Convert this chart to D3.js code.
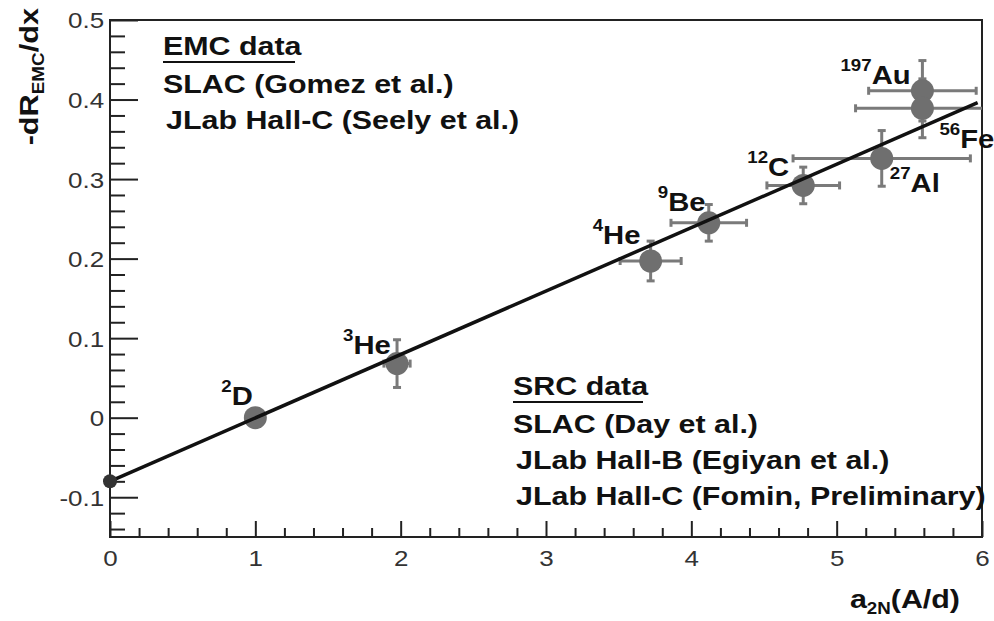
<!DOCTYPE html>
<html>
<head>
<meta charset="utf-8">
<script src="https://cdn.jsdelivr.net/npm/d3@7"></script>
<style>
  body { margin: 0; background: #fff; }
  text { font-family: "Liberation Sans", Arial, Helvetica, sans-serif; }
</style>
</head>
<body>
<script>
// nuclei: mass number (superscript) + element
var massNumber = ['2', '3', '4', '9', '12', '27', '197', '56']
var element = ['D', 'He', 'He', 'Be', 'C', 'Al', 'Au', 'Fe']
// a2N(A/d) and -dR_EMC/dx with errors
var a2N = [1.00, 1.975, 3.72, 4.12, 4.77, 5.31, 5.59, 5.59]
var emcSlope = [0.000, 0.068, 0.197, 0.245, 0.292, 0.326, 0.411, 0.389]
var a2NErr = [0, 0.09, 0.21, 0.26, 0.25, 0.61, 0.37, 0.46]
var slopeErr = [0, 0.030, 0.025, 0.023, 0.023, 0.035, 0.038, 0.037]

// linear fit, drawn between two end points, and its intercept point
var fitX = [0, 5.97]
var fitY = [-0.080, 0.396]
var intercept = {x: 0, y: -0.080}

var xTicks = [0, 1, 2, 3, 4, 5, 6]
var yTicks = [-0.1, 0, 0.1, 0.2, 0.3, 0.4, 0.5]
var yTickLabels = ['-0.1', '0', '0.1', '0.2', '0.3', '0.4', '0.5']

var emcHeader = 'EMC data'
var emcEntries = ['SLAC (Gomez et al.)', 'JLab Hall-C (Seely et al.)']
var srcHeader = 'SRC data'
var srcEntries = ['SLAC (Day et al.)', 'JLab Hall-B (Egiyan et al.)', 'JLab Hall-C (Fomin, Preliminary)']

// label placement relative to each marker (pixels)
var labelOffset = [[-34, -13], [-54, -10], [-58, -17], [-51, -12], [-56, -9], [8, 34], [-82, -7], [17, 40]]

var width = 994, height = 621
var margin = {top: 20, right: 12, bottom: 84, left: 110}
var stretch = 'scale(1.17,1)'

var svg = d3.select('body').append('svg')
		.attr('width', width).attr('height', height)

var x = d3.scaleLinear().domain([0, 6]).range([margin.left, width - margin.right])
var y = d3.scaleLinear().domain([-0.15, 0.5]).range([height - margin.bottom, margin.top])

svg.append('clipPath').attr('id', 'frame-clip')
	.append('rect')
	.attr('x', x(0)).attr('y', y(0.5))
	.attr('width', x(6) - x(0)).attr('height', y(-0.15) - y(0.5))

// minor ticks
var xMinor = d3.range(0, 6.001, 0.2).filter(function(v) { return Math.abs(v - Math.round(v)) > 1e-6 })
var yMinor = d3.range(-0.14, 0.5, 0.02).filter(function(v) { return Math.abs(v * 10 - Math.round(v * 10)) > 1e-6 })

var axisX = svg.append('g').attr('transform', `translate(0,${y(-0.15)})`)
axisX.call(d3.axisBottom(x).tickValues(xMinor).tickSize(-9).tickFormat(''))
var axisXMajor = svg.append('g').attr('transform', `translate(0,${y(-0.15)})`)
axisXMajor.call(d3.axisBottom(x).tickValues(xTicks).tickSize(-16).tickPadding(10).tickFormat(d3.format('d')))

var axisY = svg.append('g').attr('transform', `translate(${x(0)},0)`)
axisY.call(d3.axisLeft(y).tickValues(yMinor).tickSize(-15).tickFormat(''))
var axisYMajor = svg.append('g').attr('transform', `translate(${x(0)},0)`)
axisYMajor.call(d3.axisLeft(y).tickValues(yTicks).tickSize(-28).tickPadding(5)
	.tickFormat(function(d, i) { return yTickLabels[i] }))

svg.selectAll('.domain').remove()
svg.selectAll('.tick line').attr('stroke', '#222').attr('stroke-width', 2)
svg.selectAll('.tick text')
	.attr('font-size', 22).attr('fill', '#333')
	.attr('font-family', '"Liberation Sans", Arial, sans-serif')
	.attr('transform', 'scale(1.18,1)')
axisXMajor.selectAll('.tick text').attr('dy', '0.85em')
axisYMajor.selectAll('.tick text').attr('dy', '0.36em')

// frame
svg.append('rect')
	.attr('x', x(0)).attr('y', y(0.5))
	.attr('width', x(6) - x(0)).attr('height', y(-0.15) - y(0.5))
	.attr('fill', 'none').attr('stroke', '#222').attr('stroke-width', 2)

var points = a2N.map(function(v, i) {
	return {x: v, y: emcSlope[i], ex: a2NErr[i], ey: slopeErr[i], A: massNumber[i], el: element[i], off: labelOffset[i]}
})

// error bars
var bars = svg.append('g').attr('clip-path', 'url(#frame-clip)')
	.attr('stroke', '#7a7a7a').attr('stroke-width', 3)
points.filter(function(d) { return d.ex > 0 || d.ey > 0 }).forEach(function(d) {
	bars.append('line')
		.attr('x1', x(d.x - d.ex)).attr('x2', x(d.x + d.ex))
		.attr('y1', y(d.y)).attr('y2', y(d.y))
	bars.append('line')
		.attr('x1', x(d.x)).attr('x2', x(d.x))
		.attr('y1', y(d.y - d.ey)).attr('y2', y(d.y + d.ey))
	;[d.y - d.ey, d.y + d.ey].forEach(function(v) {
		bars.append('line')
			.attr('x1', x(d.x) - 4).attr('x2', x(d.x) + 4)
			.attr('y1', y(v)).attr('y2', y(v))
	})
	;[d.x - d.ex, d.x + d.ex].forEach(function(v) {
		bars.append('line')
			.attr('x1', x(v)).attr('x2', x(v))
			.attr('y1', y(d.y) - 4).attr('y2', y(d.y) + 4)
	})
})

// markers
svg.append('g').selectAll('circle')
	.data(points)
	.enter()
	.append('circle')
	.attr('cx', function(d) { return x(d.x) })
	.attr('cy', function(d) { return y(d.y) })
	.attr('r', 11.5)
	.attr('fill', '#6f6f6f')

// fit line
svg.append('line')
	.attr('x1', x(fitX[0])).attr('y1', y(fitY[0]))
	.attr('x2', x(fitX[1])).attr('y2', y(fitY[1]))
	.attr('stroke', '#111').attr('stroke-width', 3.5)

svg.append('circle')
	.attr('cx', x(intercept.x)).attr('cy', y(intercept.y))
	.attr('r', 7).attr('fill', '#333')

// nucleus labels
var labels = svg.append('g').selectAll('text')
	.data(points)
	.enter()
	.append('text')
	.attr('transform', function(d) {
		return `translate(${x(d.x) + d.off[0]},${y(d.y) + d.off[1]}) ${stretch}`
	})
	.attr('font-weight', 'bold').attr('fill', '#111')
labels.append('tspan').attr('font-size', 16).attr('dy', -13).text(function(d) { return d.A })
labels.append('tspan').attr('font-size', 25).attr('dy', 13).text(function(d) { return d.el })

// legends
function legend(header, entries, lx, ly, underline) {
	var g = svg.append('g')
	g.append('text')
		.attr('transform', `translate(${lx},${ly}) ${stretch}`)
		.attr('font-size', 26).attr('font-weight', 'bold').attr('fill', '#111')
		.text(header)
	g.append('line')
		.attr('x1', lx).attr('x2', lx + underline)
		.attr('y1', ly + 7).attr('y2', ly + 7)
		.attr('stroke', '#111').attr('stroke-width', 2)
	entries.forEach(function(e, i) {
		g.append('text')
			.attr('transform', `translate(${lx + (i > 0 ? 3 : 0)},${ly + 38 + i * 36}) ${stretch}`)
			.attr('font-size', 26).attr('font-weight', 'bold').attr('fill', '#111')
			.text(e)
	})
}
legend(emcHeader, emcEntries, 163, 55, 132)
legend(srcHeader, srcEntries, 513, 395, 130)

// axis titles
var xTitle = svg.append('text')
	.attr('transform', `translate(960,608) ${stretch}`)
	.attr('text-anchor', 'end')
	.attr('font-size', 26).attr('font-weight', 'bold').attr('fill', '#111')
xTitle.append('tspan').text('a')
xTitle.append('tspan').attr('font-size', 16).attr('dy', 6).text('2N')
xTitle.append('tspan').attr('dy', -6).text('(A/d)')

var yTitle = svg.append('text')
	.attr('transform', 'translate(38,8) rotate(-90) scale(1.18,1)')
	.attr('text-anchor', 'end')
	.attr('font-size', 26).attr('font-weight', 'bold').attr('fill', '#111')
yTitle.append('tspan').text('-dR')
yTitle.append('tspan').attr('font-size', 16).attr('dy', 6).text('EMC')
yTitle.append('tspan').attr('dy', -6).text('/dx')
</script>
</body>
</html>
